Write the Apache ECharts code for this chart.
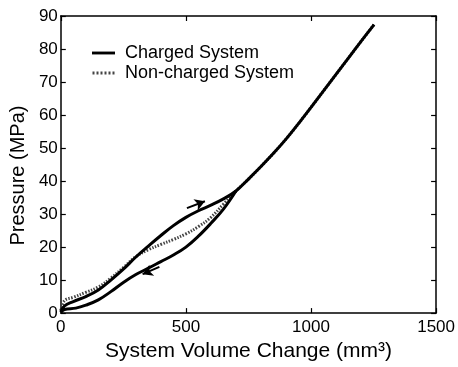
<!DOCTYPE html>
<html>
<head>
<meta charset="utf-8">
<script src="https://cdn.jsdelivr.net/npm/echarts@6/dist/echarts.min.js"></script>
<style>html,body{margin:0;padding:0;background:#fff}#c{width:458px;height:367px}</style>
</head>
<body>
<div id="c"></div>
<script>
// Charged system, loading branch (upper)
var loadX = [0, 15, 50, 100, 150, 200, 250, 300, 350, 400, 450, 500, 550, 600, 650, 700];
var loadY = [0.3, 2.2, 3.5, 5.0, 7.0, 10.0, 13.3, 17.0, 20.3, 23.5, 26.5, 29.0, 31.0, 32.7, 34.6, 37.0];
// Charged system, unloading branch (lower)
var unloadX = [0, 15, 60, 100, 150, 200, 250, 300, 350, 400, 450, 500, 550, 600, 650, 700];
var unloadY = [0.3, 1.1, 1.5, 2.4, 4.0, 6.5, 9.3, 11.7, 13.6, 15.6, 17.6, 20.0, 23.3, 27.2, 31.5, 37.0];
// Non-charged system (below merge point)
var ncX = [0, 15, 50, 100, 150, 200, 250, 300, 350, 400, 450, 500, 550, 600, 650, 700];
var ncY = [0.8, 3.8, 4.8, 6.3, 7.9, 10.6, 13.8, 17.1, 19.2, 20.8, 22.3, 24.0, 26.2, 29.0, 33.0, 37.0];
// Common upper part (both systems)
var upX = [700, 750, 800, 850, 900, 950, 1000, 1050, 1100, 1150, 1200, 1252];
var upY = [37.0, 40.6, 44.4, 48.4, 52.7, 57.4, 62.3, 67.3, 72.3, 77.3, 82.3, 87.4];
// Direction arrows [x0, y0, x1, y1] (head at x1,y1)
var arrowUp = [504, 31.8, 576, 33.9];
var arrowDown = [394, 14.0, 327, 11.8];
// Axes
var xTicks = {min: 0, max: 1500, interval: 500};
var yTicks = {min: 0, max: 90, interval: 10};
var names = ['Charged System', 'Non-charged System'];

function zip(xs, ys) { return xs.map(function (x, i) { return [x, ys[i]]; }); }

var FONT = '"Liberation Sans", Arial, Helvetica, sans-serif';
var chart = echarts.init(document.getElementById('c'), null, {renderer: 'canvas'});
var axisLine = {show: true, onZero: false, lineStyle: {color: '#000', width: 1.5}};
var tick = {show: true, inside: true, length: 5, lineStyle: {color: '#000', width: 1.2}};
var solidIcon = 'path://M0,0H24V3H0Z';
var dotIcon = 'path://M0,0h2v3h-2z M4,0h2v3h-2z M8,0h2v3h-2z M12,0h2v3h-2z M16,0h2v3h-2z M20,0h2v3h-2z';

chart.setOption({
  animation: false,
  backgroundColor: '#fff',
  grid: {left: 59, right: 17, top: 16, bottom: 51},
  legend: {
    data: [{name: names[0], icon: solidIcon}, {name: names[1], icon: dotIcon}],
    orient: 'vertical', left: 87, top: 38,
    itemWidth: 23, itemHeight: 3, itemGap: 0,
    textStyle: {fontSize: 18, color: '#000', fontFamily: FONT, lineHeight: 20, padding: [0, 0, 0, 5]}
  },
  xAxis: [{
    type: 'value', min: xTicks.min, max: xTicks.max, interval: xTicks.interval,
    axisLine: axisLine, axisTick: tick, splitLine: {show: false},
    axisLabel: {color: '#000', fontSize: 17, fontFamily: FONT, margin: 6,
      formatter: function (v) { return String(v); }},
    name: 'System Volume Change (mm³)', nameLocation: 'middle', nameGap: 23,
    nameTextStyle: {fontSize: 21, color: '#000', fontFamily: FONT}
  }, {
    type: 'value', position: 'top', min: xTicks.min, max: xTicks.max, interval: xTicks.interval,
    axisLine: axisLine, axisTick: tick, splitLine: {show: false}, axisLabel: {show: false}
  }],
  yAxis: [{
    type: 'value', min: yTicks.min, max: yTicks.max, interval: yTicks.interval,
    axisLine: axisLine, axisTick: tick, splitLine: {show: false},
    axisLabel: {color: '#000', fontSize: 17, fontFamily: FONT, margin: 3,
      formatter: function (v) { return String(v); }},
    name: 'Pressure (MPa)', nameLocation: 'middle', nameGap: 22, nameRotate: 90,
    nameTextStyle: {fontSize: 20, color: '#000', fontFamily: FONT, padding: [0, 22, 0, 0]}
  }, {
    type: 'value', position: 'right', min: yTicks.min, max: yTicks.max, interval: yTicks.interval,
    axisLine: axisLine, axisTick: tick, splitLine: {show: false}, axisLabel: {show: false}
  }],
  series: [
    {
      name: names[1], type: 'line', data: zip(ncX.concat(upX.slice(1)), ncY.concat(upY.slice(1))),
      smooth: 0.4, symbol: 'none', z: 2,
      lineStyle: {color: '#444', width: 3, type: [1.5, 1.5]}, itemStyle: {color: '#444'}
    },
    {
      name: names[0], type: 'line', data: zip(loadX.concat(upX.slice(1)), loadY.concat(upY.slice(1))),
      smooth: 0.4, symbol: 'none', z: 3,
      lineStyle: {color: '#000', width: 3}, itemStyle: {color: '#000'},
      markLine: {
        silent: true, symbol: ['none', 'arrow'], symbolSize: [9, 10], label: {show: false},
        lineStyle: {color: '#000', width: 2, type: 'solid'},
        data: [
          [{coord: [arrowUp[0], arrowUp[1]]}, {coord: [arrowUp[2], arrowUp[3]]}],
          [{coord: [arrowDown[0], arrowDown[1]]}, {coord: [arrowDown[2], arrowDown[3]]}]
        ]
      }
    },
    {
      name: names[0], type: 'line', data: zip(unloadX, unloadY),
      smooth: 0.4, symbol: 'none', z: 3,
      lineStyle: {color: '#000', width: 3}, itemStyle: {color: '#000'}
    }
  ]
});
</script>
</body>
</html>
